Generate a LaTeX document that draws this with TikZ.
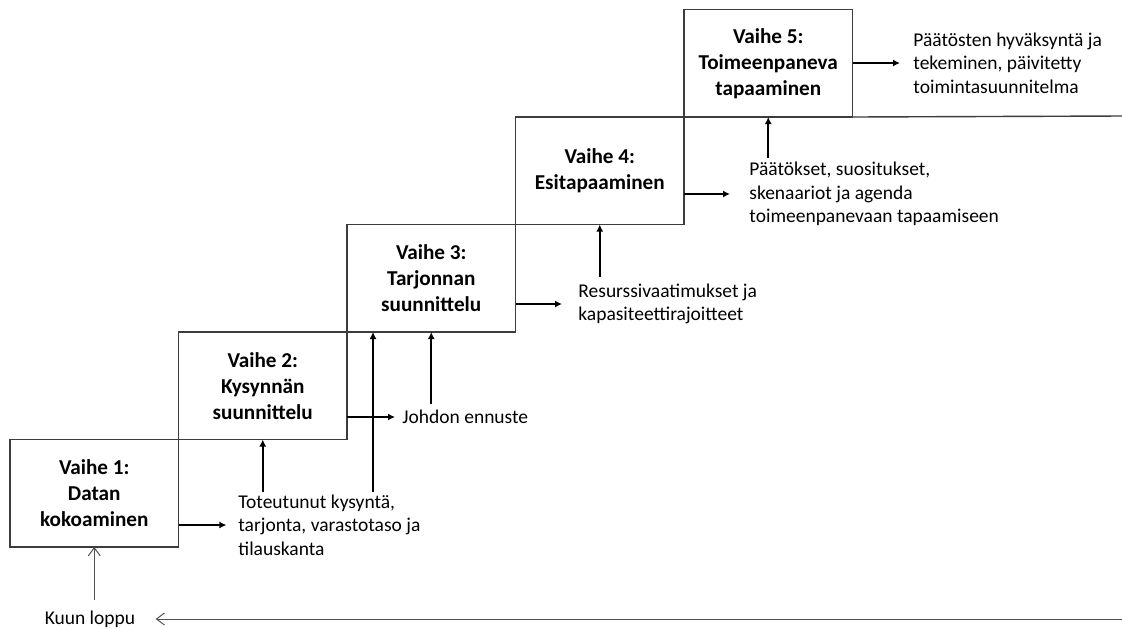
\documentclass[tikz,border=0pt]{standalone}
\usepackage{fontspec}
\setmainfont{Carlito}
\usetikzlibrary{arrows.meta,positioning,calc}
\definecolor{Edge}{HTML}{3C3C3C}
\definecolor{Thin}{HTML}{505050}

\begin{document}
\begin{tikzpicture}[x=0.5pt,y=-0.5pt,
    vaihe/.style={draw=Edge,line width=0.7pt,minimum width=84.25pt,minimum height=53.75pt,inner sep=0pt,outer sep=0pt,align=center,font=\fontsize{10.6}{13}\selectfont\bfseries},
    tulos/.style={anchor=west,align=left,inner sep=0pt,font=\fontsize{9.75}{11.8}\selectfont},
    a/.style={-{Latex[length=3.5pt,width=3.5pt]},line width=0.9pt},
    ohut/.style={-{Straight Barb[length=4pt,width=6pt]},line width=0.5pt,draw=Thin}]
    \useasboundingbox (0,0) rectangle (1122,628);
    % portaat
    \node[vaihe,anchor=south west] (b1) at (10,547) {Vaihe 1:\\Datan\\kokoaminen};
    \node[vaihe,above right=0pt and 0pt of b1] (b2) {Vaihe 2:\\Kysynnän\\suunnittelu};
    \node[vaihe,above right=0pt and 0pt of b2] (b3) {Vaihe 3:\\Tarjonnan\\suunnittelu};
    \node[vaihe,above right=0pt and 0pt of b3] (b4) {Vaihe 4:\\Esitapaaminen};
    \node[vaihe,above right=0pt and 0pt of b4] (b5) {Vaihe 5:\\Toimeenpaneva\\tapaaminen};
    \coordinate (oikea) at (1122,116);
    \draw[draw=Edge,line width=0.7pt] (b5.south east) -- (oikea);
    % tulokset
    \node[tulos] (t1) at (238,525) {Toteutunut kysyntä,\\tarjonta, varastotaso ja\\tilauskanta};
    \node[tulos] (t2) at (402,417) {Johdon ennuste};
    \node[tulos] (t3) at (578,304) {Resurssivaatimukset ja\\kapasiteettirajoitteet};
    \node[tulos] (t4) at (749,194) {Päätökset, suositukset,\\skenaariot ja agenda\\toimeenpanevaan tapaamiseen};
    \node[tulos] (t5) at (913,63) {Päätösten hyväksyntä ja\\tekeminen, päivitetty\\toimintasuunnitelma};
    \node[tulos,anchor=center] (kuun) at (90,619) {Kuun loppu};
    \coordinate (paluu) at (1122,619);
    \draw[a,shorten >=5.8pt] (t1.west -| b1.east) -- (t1.west);
    \draw[a,shorten >=3.5pt] (t2.west -| b2.east) -- (t2.west);
    \draw[a,shorten >=8pt] (t3.west -| b3.east) -- (t3.west);
    \draw[a,shorten >=9.5pt] (t4.west -| b4.east) -- (t4.west);
    \draw[a,shorten >=6.5pt] (t5.west -| b5.east) -- (t5.west);
    \draw[a,shorten <=1pt] (b2.south |- t1.north) -- (b2.south);
    \draw[a,shorten <=1pt] ([xshift=13pt]b3.south west |- t1.north) -- ([xshift=13pt]b3.south west);
    \draw[a,shorten <=3pt] (b3.south |- t2.north) -- (b3.south);
    \draw[a,shorten <=3pt] (b4.south |- t3.north) -- (b4.south);
    \draw[a,shorten <=2pt] (b5.south |- t4.north) -- (b5.south);
    \draw[ohut,shorten >=10pt] (paluu) -- (kuun.east);
    \draw[ohut,shorten <=5pt] (b1.south |- kuun.north) -- (b1.south);
  \end{tikzpicture}
\end{document}
